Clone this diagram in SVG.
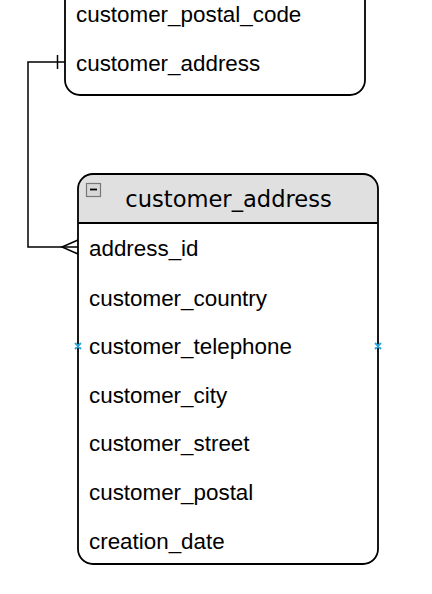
<svg xmlns="http://www.w3.org/2000/svg" width="432" height="594" viewBox="0 0 432 594">
<style>
.row{font-family:"Liberation Sans",Arial,sans-serif;font-size:22.4px;fill:#000}
.title{font-family:"DejaVu Sans",Verdana,sans-serif;font-size:22.6px;fill:#000;text-anchor:middle}
.box{fill:#fff;stroke:#000;stroke-width:1.8}
.conn{fill:none;stroke:#000;stroke-width:1.5}
.mark{stroke:#29a8e0;stroke-width:1.8;fill:none}
</style>
<rect width="432" height="594" fill="#fff"/>
<g id="customer">
<rect class="box" x="65" y="-60" width="300" height="155" rx="15"/>
<text class="row" x="76" y="22">customer_postal_code</text>
<text class="row" x="76" y="71">customer_address</text>
</g>
<g id="customer_address">
<path d="M78,223 V189 a15,15 0 0 1 15,-15 H363 a15,15 0 0 1 15,15 V223 Z" fill="#e0e0e0"/>
<rect x="78" y="174" width="300" height="390" rx="15" fill="none" stroke="#000" stroke-width="1.8"/>
<path d="M78,223 H378" fill="none" stroke="#000" stroke-width="1.8"/>
<rect x="86.5" y="183.5" width="14" height="13" fill="#d8d8d8" stroke="#777" stroke-width="1.2"/>
<path d="M90,189.5 H97" stroke="#000" stroke-width="1.8"/>
<text class="title" x="228.5" y="207">customer_address</text>
<text class="row" x="89" y="256">address_id</text>
<text class="row" x="89" y="306">customer_country</text>
<text class="row" x="89" y="354">customer_telephone</text>
<text class="row" x="89" y="403">customer_city</text>
<text class="row" x="89" y="451">customer_street</text>
<text class="row" x="89" y="500">customer_postal</text>
<text class="row" x="89" y="549">creation_date</text>
<path class="mark" d="M75,343 L81,349 M81,343 L75,349 M375,343 L381,349 M381,343 L375,349"/>
</g>
<g id="connectors">
<path class="conn" d="M65,62 H28 V247 H78"/>
<path class="conn" d="M57.5,55 V69"/>
<path class="conn" d="M78,240 L62,247 L78,254"/>
</g>
</svg>
